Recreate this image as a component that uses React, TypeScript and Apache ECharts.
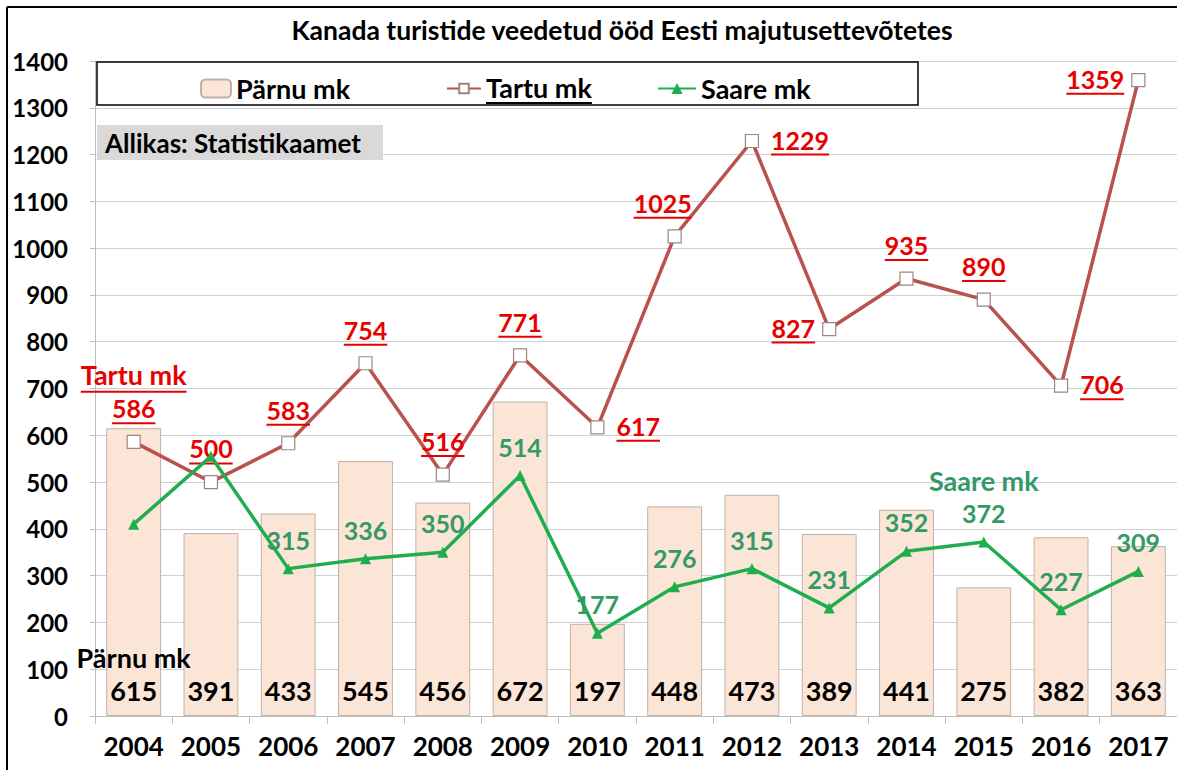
import React, { useEffect, useRef } from "react";
import * as echarts from "echarts";

const years = ["2004","2005","2006","2007","2008","2009","2010","2011","2012","2013","2014","2015","2016","2017"];
const parnu = [615, 391, 433, 545, 456, 672, 197, 448, 473, 389, 441, 275, 382, 363];
const tartu = [586, 500, 583, 754, 516, 771, 617, 1025, 1229, 827, 935, 890, 706, 1359];
const saare = [410, 555, 315, 336, 350, 514, 177, 276, 315, 231, 352, 372, 227, 309];
const yTicks = [0, 100, 200, 300, 400, 500, 600, 700, 800, 900, 1000, 1100, 1200, 1300, 1400];

const tartuLabelPos = ["top","top","top","top","top","top","right","top","right","left","top","top","right","left"];
const saareLabelShow = [false, false, true, true, true, true, true, true, true, true, true, true, true, true];

const FONT = "Lato";
const RED = "#E60000";
const GREEN_TXT = "#339966";

function measure(s: string, size: number): number {
  const c = document.createElement("canvas").getContext("2d");
  if (!c) return s.length * size * 0.55;
  c.font = `bold ${size}px ${FONT}`;
  return c.measureText(s).width;
}

export default function App() {
  const ref = useRef<HTMLDivElement>(null);
  useEffect(() => {
    if (!ref.current) return;
    const chart = echarts.init(ref.current, null, { renderer: "svg" });
    const LS = 25;
    const red = { fontSize: LS, fontWeight: "bold", fontFamily: FONT, color: RED, lineHeight: 27 };
    const tartuData = tartu.map((v, i) => {
      const s = String(v);
      const w = measure(s, LS);
      const rich: any = {
        v: red,
        n: { ...red, fontSize: 27, lineHeight: 29 },
        u: { width: w, height: 2, lineHeight: 3, fontSize: 1, backgroundColor: RED },
      };
      let fmt = `{v|${s}}\n{u| }`;
      if (i === 0) {
        const nw = measure("Tartu mk", 27);
        rich.nu = { width: nw, height: 2, lineHeight: 6, fontSize: 1, backgroundColor: RED };
        fmt = `{n|Tartu mk}\n{nu| }\n{v|${s}}\n{u| }`;
      }
      const pos = tartuLabelPos[i];
      return {
        value: v,
        label: {
          show: true,
          position: pos,
          distance: pos === "top" ? 10 : pos === "left" ? 7 : 12,
          offset: i === 7 ? [-12, 0] : [0, 0],
          formatter: fmt,
          rich,
        },
      };
    });
    const saareData = saare.map((v, i) => ({
      value: v,
      label: {
        show: saareLabelShow[i],
        formatter: i === 11 ? `{n|Saare mk}\n{v|${v}}` : `{v|${v}}`,
      },
    }));
    const parnuData = parnu.map((v, i) => ({
      value: v,
      label: {
        formatter: i === 0 ? `{n|Pärnu mk}\n{v|${v}}` : `{v|${v}}`,
      },
    }));
    const legendText = { fontSize: 27, fontWeight: "bold", fontFamily: FONT, color: "#000" };
    const tlw = measure("Tartu mk", 27);
    const option: any = {
      animation: false,
      backgroundColor: "#fff",
      grid: { left: 95, top: 61, width: 1084, height: 655, containLabel: false },
      graphic: [
        { type: "line", z: 10, shape: { x1: 7, y1: 7, x2: 1177, y2: 7 }, style: { stroke: "#000", lineWidth: 2 } },
        { type: "line", z: 10, shape: { x1: 7, y1: 7, x2: 7, y2: 770 }, style: { stroke: "#000", lineWidth: 2 } },
        {
          type: "text", x: 622, y: 30, z: 10,
          style: { text: "Kanada turistide veedetud ööd Eesti majutusettevõtetes", fontSize: 26.5, fontWeight: "bold", fontFamily: FONT, fill: "#000", textAlign: "center", textVerticalAlign: "middle" },
        },
        { type: "rect", z: 1, shape: { x: 97, y: 62, width: 821, height: 43 }, style: { fill: "#fff", stroke: "#000", lineWidth: 1.5 } },
        { type: "rect", z: 1, shape: { x: 97, y: 125, width: 286, height: 35 }, style: { fill: "#D9D9D9" } },
        {
          type: "text", x: 105, y: 143, z: 10,
          style: { text: "Allikas: Statistikaamet", fontSize: 26, fontWeight: "bold", fontFamily: FONT, fill: "#000", textVerticalAlign: "middle" },
        },
      ],
      legend: [
        { data: ["Pärnu mk"], left: 195, top: 70, itemWidth: 30, itemHeight: 18, itemGap: 0, textStyle: legendText },
        {
          data: ["Tartu mk"], left: 441, top: 69, itemWidth: 34, itemHeight: 12, textStyle: {
            ...legendText,
            rich: {
              t: { ...legendText, lineHeight: 29 },
              u: { width: tlw, height: 2, lineHeight: 2, fontSize: 1, backgroundColor: "#000" },
            },
          },
          formatter: (n: string) => `{t|${n}}\n{u| }`,
        },
        { data: ["Saare mk"], left: 652, top: 70, itemWidth: 38, itemHeight: 14, textStyle: legendText },
      ],
      xAxis: {
        type: "category",
        data: years,
        axisLine: { lineStyle: { color: "#BFBFBF", width: 1 } },
        axisTick: { show: true, length: 8, lineStyle: { color: "#BFBFBF" } },
        axisLabel: { interval: 0, fontSize: 26, fontWeight: "bold", fontFamily: FONT, color: "#000", margin: 17 },
      },
      yAxis: {
        type: "value",
        min: yTicks[0],
        max: yTicks[yTicks.length - 1],
        interval: 100,
        axisLine: { show: true, lineStyle: { color: "#BFBFBF" } },
        axisTick: { show: true, length: 5, lineStyle: { color: "#BFBFBF" } },
        axisLabel: { formatter: (v: number) => String(v), fontSize: 24, fontWeight: "bold", fontFamily: FONT, color: "#000", margin: 27 },
        splitLine: { lineStyle: { color: "#D0D0D0", width: 1 } },
      },
      series: [
        {
          name: "Pärnu mk",
          type: "bar",
          data: parnuData,
          barCategoryGap: "29%",
          itemStyle: { color: "#FBE5D6", borderColor: "#BFB1A8", borderWidth: 1 },
          label: {
            show: true,
            position: "insideBottom",
            distance: 12,
            rich: {
              v: { fontSize: 27, fontWeight: "bold", fontFamily: FONT, color: "#000", lineHeight: 28 },
              n: { fontSize: 27, fontWeight: "bold", fontFamily: FONT, color: "#000", lineHeight: 38 },
            },
          },
          z: 2,
        },
        {
          name: "Tartu mk",
          type: "line",
          data: tartuData,
          symbol: "rect",
          symbolSize: 13,
          showAllSymbol: true,
          lineStyle: { color: "#B9514F", width: 3.5 },
          itemStyle: { color: "#fff", borderColor: "#9C8686", borderWidth: 1.2 },
          z: 3,
        },
        {
          name: "Saare mk",
          type: "line",
          data: saareData,
          symbol: "triangle",
          symbolSize: 11,
          lineStyle: { color: "#1EAE4E", width: 3.5 },
          itemStyle: { color: "#1EAE4E" },
          label: {
            show: true, position: "top", distance: 10,
            rich: {
              v: { fontSize: 25, fontWeight: "bold", fontFamily: FONT, color: GREEN_TXT, lineHeight: 27 },
              n: { fontSize: 27, fontWeight: "bold", fontFamily: FONT, color: GREEN_TXT, lineHeight: 38 },
            },
          },
          z: 4,
        },
      ],
    };
    chart.setOption(option);
    return () => chart.dispose();
  }, []);
  return <div ref={ref} style={{ position: "absolute", left: 0, top: 0, width: 1177, height: 770, background: "#fff" }} />;
}
